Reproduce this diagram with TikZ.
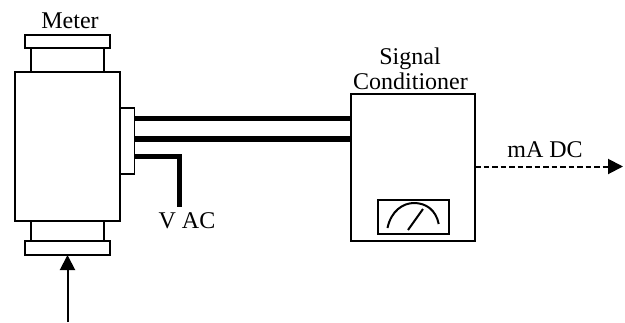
\documentclass[tikz,border=0pt]{standalone}
\usepackage{fontspec}
\setmainfont{Liberation Serif}
\usetikzlibrary{arrows.meta}
\begin{document}
\begin{tikzpicture}[x=1pt,y=-1pt,
  part/.style={draw=black,fill=white,line width=1.9pt,inner sep=0pt,outer sep=0pt},
  wire/.style={line width=5.6pt,draw=black},
  thin line/.style={line width=2pt,draw=black},
  tip/.style={-{Triangle[length=15pt,width=15pt]}},
  lbl/.style={font=\fontsize{24pt}{25pt}\selectfont,anchor=base,inner sep=0pt}]
\useasboundingbox (0,0) rectangle (625,322);
\fill[white] (0,0) rectangle (625,322);
% meter
\node[part,minimum width=73pt,minimum height=24pt] (necktop) at (67.5,60) {};
\node[part,minimum width=73pt,minimum height=20pt] (neckbot) at (67.5,231) {};
\node[part,minimum width=84.5pt,minimum height=13.5pt] (flangetop) at (67.5,41.5) {};
\node[part,minimum width=84.5pt,minimum height=14pt] (flangebot) at (67.5,248) {};
\node[part,minimum width=105pt,minimum height=149pt] (body) at (67.5,146.5) {};
\node[part,minimum width=14.5pt,minimum height=66pt] (junction) at (127.2,141) {};
% signal conditioner
\node[part,minimum width=124pt,minimum height=147pt] (cond) at (413,167.5) {};
\node[part,minimum width=71pt,minimum height=34pt] (dial) at (413.5,217) {};
% wires
\coordinate (w1) at (240,118.5);
\coordinate (w2) at (240,139);
\coordinate (w3) at (179.5,156);
\coordinate (w3end) at (179.5,206.5);
\draw[wire] (junction.east |- w1) -- (cond.west |- w1);
\draw[wire] (junction.east |- w2) -- (cond.west |- w2);
\draw[wire,line width=5pt] (junction.east |- w3) -- (w3) -- (w3end);
% dial face
\coordinate (arcL) at (387.5,228);
\coordinate (arcR) at (438.7,224);
\coordinate (needleA) at (408,230);
\coordinate (needleB) at (423,209);
\draw[thin line] (arcL) .. controls (391,211) and (403,203) .. (414,203) .. controls (426,203) and (436,210) .. (arcR);
\draw[thin line] (needleA) -- (needleB);
% input arrow
\coordinate (inStart) at (67.5,322);
\draw[thin line,tip] (inStart) -- (flangebot.south);
% output arrow
\coordinate (outEnd) at (623,166.5);
\draw[thin line,dash pattern=on 5.5pt off 3pt] (cond.east |- outEnd) -- ([xshift=-14pt]outEnd);
\draw[thin line,tip] ([xshift=-15pt]outEnd) -- (outEnd);
% labels
\node[lbl] (tMeter) at (70,28) {Meter};
\node[lbl] (tSignal) at (410,64) {Signal};
\node[lbl] (tCond) at (410.5,89) {Conditioner};
\node[lbl] (tVAC) at (187,228) {V AC};
\node[lbl] (tmA) at (545,157) {mA DC};
\end{tikzpicture}
\end{document}
